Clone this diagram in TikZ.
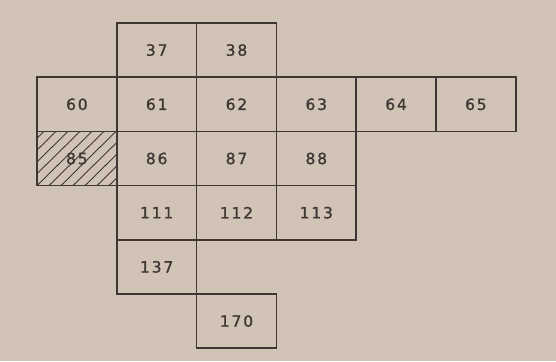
\documentclass[tikz,border=0pt]{standalone}
\usepackage{fontspec}
\newfontfamily\cellfont[LetterSpace=12,FakeBold=1.2]{DejaVu Sans}
\definecolor{paper}{RGB}{209,196,182}
\definecolor{ink}{RGB}{62,55,51}
\begin{document}
\begin{tikzpicture}[x=1pt, y=-1pt,
    cell/.style={draw=ink, line width=1.5pt, minimum width=79.8pt, minimum height=54.2pt,
      inner sep=0pt, text=ink, font=\cellfont\fontsize{15.5}{15.5}\selectfont}]
  \fill[paper] (0,0) rectangle (556,361);
  \useasboundingbox (0,0) rectangle (556,361);
  \begin{scope}
    \clip (37,131.4) rectangle (116.8,185.6);
    \foreach \s in {0,12,...,150}
      \draw[ink, line width=0.9pt] (37+\s-60,185.6) -- (37+\s,131.4-5);
  \end{scope}
  \node[cell] (c37) at (156.7,50.1) {37};
  \node[cell] (c38) at (236.5,50.1) {38};
  \node[cell] (c60) at (76.9,104.3) {60};
  \node[cell] (c61) at (156.7,104.3) {61};
  \node[cell] (c62) at (236.5,104.3) {62};
  \node[cell] (c63) at (316.3,104.3) {63};
  \node[cell] (c64) at (396.1,104.3) {64};
  \node[cell] (c65) at (475.9,104.3) {65};
  \node[cell] (c85) at (76.9,158.5) {85};
  \node[cell] (c86) at (156.7,158.5) {86};
  \node[cell] (c87) at (236.5,158.5) {87};
  \node[cell] (c88) at (316.3,158.5) {88};
  \node[cell] (c111) at (156.7,212.7) {111};
  \node[cell] (c112) at (236.5,212.7) {112};
  \node[cell] (c113) at (316.3,212.7) {113};
  \node[cell] (c137) at (156.7,266.9) {137};
  \node[cell] (c170) at (236.5,321.1) {170};
\end{tikzpicture}
\end{document}
